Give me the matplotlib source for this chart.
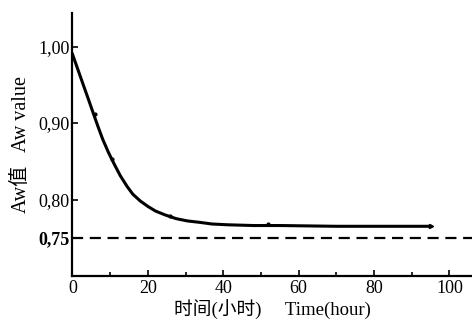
import matplotlib
matplotlib.use("Agg")
import matplotlib.pyplot as plt

# 曲线点
time_h = [0, 1.5, 3, 4.3, 5.5, 6.8, 8, 9.5, 11, 12.7, 14.5, 16, 18, 20, 22,
          24.5, 27.5, 30.5, 34, 37, 41, 48, 55, 70, 95]
aw = [0.990, 0.969, 0.948, 0.930, 0.913, 0.895, 0.879, 0.862, 0.847, 0.831,
      0.817, 0.807, 0.798, 0.791, 0.785, 0.780, 0.775, 0.772, 0.770, 0.768,
      0.767, 0.766, 0.766, 0.765, 0.765]

# 实测点
pt_time = [6, 10.5, 26, 52]
pt_aw = [0.912, 0.853, 0.779, 0.768]

x_ticks = [0, 20, 40, 60, 80, 100]
y_ticks = [0.75, 0.80, 0.90, 1.00]
y_labels = ["0,75", "0,80", "0,90", "1,00"]
aw_limit = 0.75

plt.rcParams['font.family'] = ['Liberation Serif', 'Noto Sans CJK SC']

fig = plt.figure(figsize=(4.72, 3.23), dpi=100)
ax = fig.add_axes([0.1536, 0.1455, 0.8464, 0.8145])

ax.plot(time_h, aw, color='black', lw=2.2)
ax.plot(pt_time, pt_aw, 'o', color='black', ms=2)
ax.plot([95], [0.765], marker='>', color='black', ms=3)
ax.axhline(aw_limit, color='black', lw=1.6, ls=(0, (5, 3)))

ax.set_xlim(0, 106)
ax.set_ylim(0.70, 1.044)
ax.set_xticks(x_ticks)
ax.set_xticks(range(0, 106, 10), minor=True)
ax.set_yticks(y_ticks)
ax.set_yticklabels(y_labels)
ax.tick_params(direction='in', length=4, width=1.2, labelsize=13, pad=3)
ax.tick_params(which='minor', direction='in', length=3, width=1.2)
ax.tick_params(axis='y', labelsize=13, pad=2)
for lab in ax.get_yticklabels():
    if lab.get_text() == "0,75":
        lab.set_fontweight('bold')

for s in ['top', 'right']:
    ax.spines[s].set_visible(False)
ax.spines['left'].set_linewidth(1.6)
ax.spines['bottom'].set_linewidth(1.6)

ax.set_xlabel("时间(小时)     Time(hour)", fontsize=13.5, labelpad=2)
ax.set_ylabel("Aw值   Aw value", fontsize=14.5, labelpad=5)

fig.savefig("out.png", dpi=100)
